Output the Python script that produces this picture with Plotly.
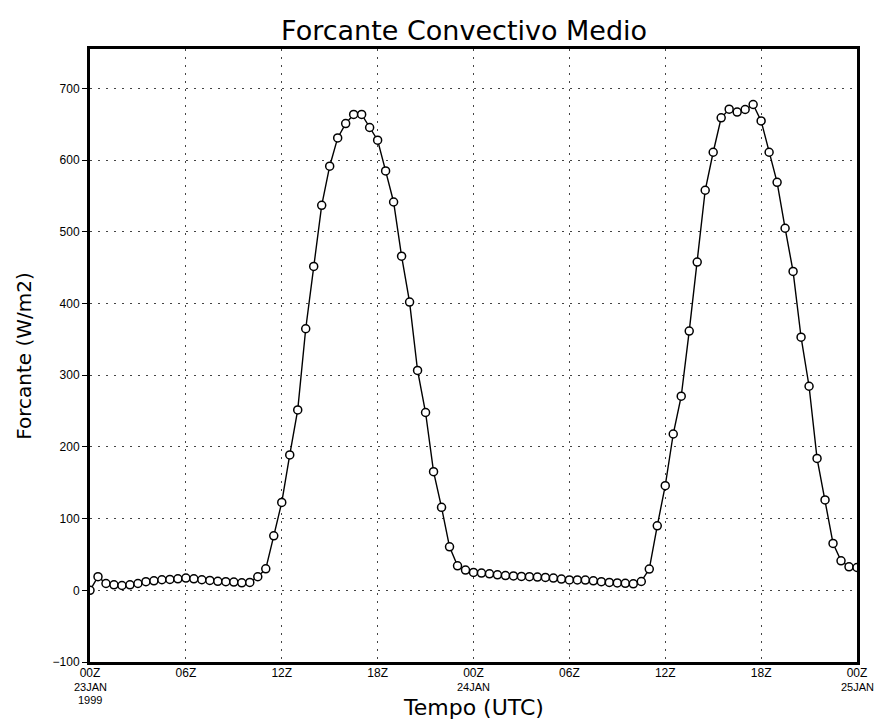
import plotly.graph_objects as go

# Mean convective forcing (W/m2), half-hourly from 00Z 23JAN1999 to 00Z 25JAN1999
forcante = [
    0, 19, 9.5, 7.7, 6.7, 7.7, 9.5, 12, 13.3, 14.7, 15.1, 16, 17, 16, 14.7, 13.8,
    12.5, 12, 11.5, 10.5, 11, 18.9, 30, 76, 122.6, 188.8, 251.6, 364.8, 451.8, 537,
    591.5, 631, 651, 663.7, 663.7, 645.5, 627.8, 585, 541.6, 466, 402, 306.6, 248,
    165.5, 115.7, 60.7, 34.2, 28.2, 24.9, 24, 23, 21.6, 20.5, 20, 19.3, 19, 18.4,
    17.9, 17, 15.6, 14.5, 14.5, 14.2, 13.3, 12, 11, 10.3, 9.8, 9, 12.3, 29.6, 90,
    146, 218, 270.7, 361.5, 457.8, 558, 611, 659, 671, 667, 670.6, 677.6, 654.7,
    611, 569, 505, 444.8, 353, 284.6, 184, 126, 65.4, 41.2, 32.8, 31.8,
]
step_hours = 0.5
horas = [i * step_hours for i in range(len(forcante))]

tick_hours = [0, 6, 12, 18, 24, 30, 36, 42, 48]
tick_labels = ["00Z", "06Z", "12Z", "18Z", "00Z", "06Z", "12Z", "18Z", "00Z"]
# extra date lines written under the day-boundary ticks
date_hours = [0, 0, 24, 48]
date_lines = ["23JAN", "1999", "24JAN", "25JAN"]
date_rows = [1, 2, 1, 1]
y_ticks = [-100, 0, 100, 200, 300, 400, 500, 600, 700]

tick_font = dict(family="Liberation Sans Narrow, Liberation Sans, sans-serif",
                 size=12, color="black")
date_font = dict(tick_font, size=11)
title_font = "DejaVu Sans"

fig = go.Figure()
fig.add_trace(go.Scatter(
    x=horas, y=forcante, mode="lines+markers",
    line=dict(color="black", width=1.4),
    marker=dict(symbol="circle", size=8, color="white",
                line=dict(color="black", width=1.5)),
    showlegend=False,
))

grid = dict(showgrid=True, gridcolor="#444", gridwidth=1, griddash="2px,6px")

annotations = [
    dict(text="Tempo (UTC)", xref="paper", yref="paper",
         x=0.5, y=-0.0745, xanchor="center", yanchor="middle",
         showarrow=False, borderpad=0,
         font=dict(family=title_font, size=22, color="black")),
    dict(text="Forcante (W/m2)", xref="paper", yref="paper",
         x=-0.087, y=0.5, xanchor="center", yanchor="middle",
         textangle=-90, showarrow=False,
         font=dict(family=title_font, size=20, color="black")),
]
for h, txt, row in zip(date_hours, date_lines, date_rows):
    annotations.append(dict(
        text=txt, xref="x", yref="paper", x=h, y=0, yshift=-12 - 13 * row,
        xanchor="center", yanchor="middle", showarrow=False, borderpad=0,
        font=date_font))

fig.update_layout(
    width=879, height=723,
    margin=dict(l=90, r=22, t=49, b=61),
    paper_bgcolor="white", plot_bgcolor="white",
    title=dict(text="Forcante Convectivo Medio", x=0.528, xanchor="center",
               y=0.958, yanchor="middle",
               font=dict(family=title_font, size=27, color="black")),
    font=tick_font,
    annotations=annotations,
)
fig.update_xaxes(
    range=[0, 48], tickmode="array", tickvals=tick_hours, ticktext=tick_labels,
    showline=True, linecolor="black", linewidth=3, mirror=True,
    ticks="", zeroline=False, automargin=False, ticklabelstandoff=-2,
    **grid,
)
fig.update_yaxes(
    range=[-100, 755], tickmode="array", tickvals=y_ticks,
    showline=True, linecolor="black", linewidth=3, mirror=True,
    ticks="outside", ticklen=5, tickcolor="black", tickwidth=1,
    zeroline=False, automargin=False,
    **grid,
)

fig.write_html("out.html")
